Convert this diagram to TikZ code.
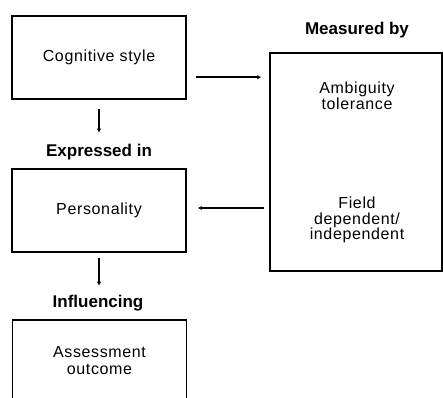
\documentclass[tikz,border=0pt]{standalone}
\usepackage{fontspec}
\setmainfont{Liberation Sans}
\usetikzlibrary{arrows.meta,calc}
\begin{document}
\begin{tikzpicture}[x=1pt,y=1pt,
  boxstyle/.style={draw=black,line width=1.4pt,minimum width=174pt,minimum height=83pt,inner sep=0pt,
    font=\addfontfeature{LetterSpace=4}\fontsize{16}{15}\selectfont,align=center},
  bodytext/.style={inner sep=0pt,align=center,font=\addfontfeature{LetterSpace=4}\fontsize{16}{15.5}\selectfont},
  boldlabel/.style={inner sep=0pt,font=\bfseries\fontsize{17}{17}\selectfont},
  arr/.style={line width=1.4pt,-{Latex[length=4pt,width=4.5pt]}}]
\useasboundingbox (0,0) rectangle (443,397);
\clip (0,0) rectangle (443,397);
\node[boxstyle] (c1) at (99,339.5) {Cognitive style};
\node[boxstyle] (c2) at (99,186.5) {Personality};
\node[boxstyle,minimum height=86pt] (c3) at (99.5,34) {\raisebox{9pt}{\begin{tabular}{@{}c@{}}Assessment\\[2pt]outcome\end{tabular}}};
\node[draw=black,line width=1.4pt,minimum width=172pt,minimum height=218pt,inner sep=0pt] (rbox) at (356,235) {};
\node[bodytext] (amb) at (357,301) {Ambiguity\\tolerance};
\node[bodytext] (fld) at (357,177) {Field\\dependent/\\independent};
\node[boldlabel] (mb) at (357,367) {Measured by};
\node[boldlabel] (ex) at (99,245) {Expressed in};
\node[boldlabel] (inf) at (98,94) {Influencing};
\draw[arr] ($(c1.south east)+(9,22.5)$) -- ($(rbox.west |- c1.south)+(-8,22.5)$);
\draw[arr] ($(rbox.west |- c2.east)+(-5,2.5)$) -- ($(c2.east)+(11,2.5)$);
\draw[arr] ([yshift=-9pt]c1.south) -- ([yshift=-33pt]c1.south);
\draw[arr] ([yshift=-5pt]c2.south) -- ([yshift=-33pt]c2.south);
\end{tikzpicture}
\end{document}
